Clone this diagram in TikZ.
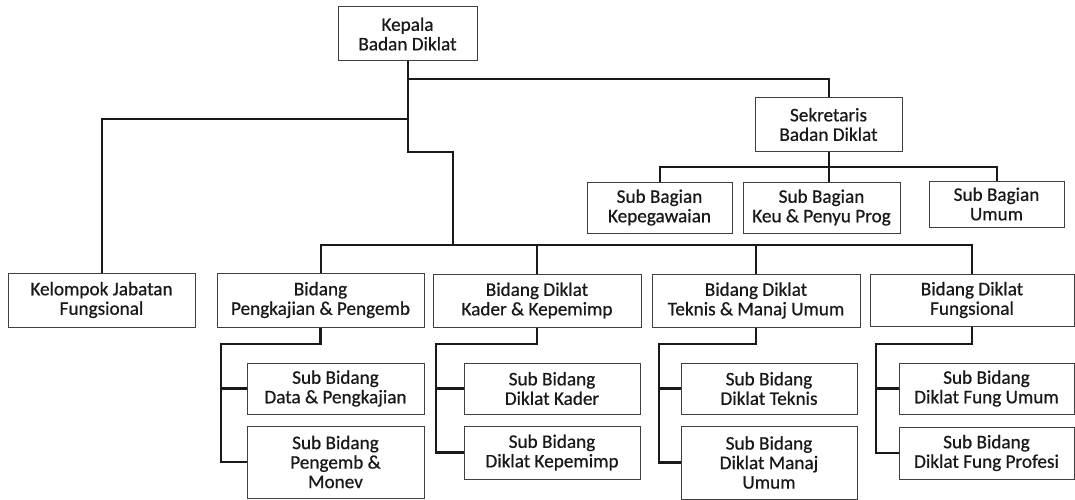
\documentclass[tikz,border=0pt]{standalone}
\usepackage{fontspec}
\setmainfont{Carlito}[FakeBold=0.6]
\begin{document}
\begin{tikzpicture}[x=1pt,y=-1pt,
  box/.style={draw=black!75, line width=1pt, fill=white, align=center, inner sep=0pt,
    font=\fontsize{19.2}{19.5}\selectfont, text=black!90},
  conn/.style={line width=2pt, draw=black!90},
  subconn/.style={line width=2.8pt, draw=black!90}]
\useasboundingbox[fill=white] (0,0) rectangle (1075,500);
% top
\node[box, minimum width=139pt, minimum height=54pt] (kepala) at (407.5,34) {Kepala\\Badan Diklat};
\node[box, minimum width=147pt, minimum height=53pt] (sekr) at (828.5,124.5) {Sekretaris\\Badan Diklat};
\node[box, minimum width=145pt, minimum height=51pt] (sb1) at (659.5,207.5) {Sub Bagian\\Kepegawaian};
\node[box, minimum width=157pt, minimum height=51pt] (sb2) at (821.5,207.5) {Sub Bagian\\Keu \& Penyu Prog};
\node[box, minimum width=135pt, minimum height=46pt] (sb3) at (996.5,204) {Sub Bagian\\Umum};
% bidang row
\node[box, minimum width=187pt, minimum height=54pt] (kel) at (101.5,300) {Kelompok Jabatan\\Fungsional};
\node[box, minimum width=207pt, minimum height=54pt] (bp) at (320.5,300) {Bidang\\Pengkajian \& Pengemb};
\node[box, minimum width=208pt, minimum height=53pt] (bk) at (537,300.5) {Bidang Diklat\\Kader \& Kepemimp};
\node[box, minimum width=208pt, minimum height=53pt] (bt) at (756,300.5) {Bidang Diklat\\Teknis \& Manaj Umum};
\node[box, minimum width=204pt, minimum height=52pt] (bf) at (972,300) {Bidang Diklat\\Fungsional};
% sub row
\node[box, minimum width=177pt, minimum height=51pt] (bp1) at (335.5,388.5) {Sub Bidang\\Data \& Pengkajian};
\node[box, minimum width=177pt, minimum height=72pt] (bp2) at (335.5,462) {Sub Bidang\\Pengemb \&\\Monev};
\node[box, minimum width=176pt, minimum height=51pt] (bk1) at (552,388.5) {Sub Bidang\\Diklat Kader};
\node[box, minimum width=176pt, minimum height=53pt] (bk2) at (552,452.5) {Sub Bidang\\Diklat Kepemimp};
\node[box, minimum width=176pt, minimum height=51pt] (bt1) at (769,388.5) {Sub Bidang\\Diklat Teknis};
\node[box, minimum width=176pt, minimum height=73pt] (bt2) at (769,462.5) {Sub Bidang\\Diklat Manaj\\Umum};
\node[box, minimum width=175pt, minimum height=51pt] (bf1) at (986.5,388.5) {Sub Bidang\\Diklat Fung Umum};
\node[box, minimum width=175pt, minimum height=52pt] (bf2) at (986.5,453) {Sub Bidang\\Diklat Fung Profesi};
% helper coordinates
\coordinate (jog) at (453,152);
\coordinate (barY) at (0,245);
\coordinate (sbarY) at (0,167);
\coordinate (sekY) at (0,79);
\coordinate (kelY) at (0,119);
\coordinate (elY) at (0,344);
% connectors
\draw[conn] (kepala.south) |- (jog) -- (jog |- barY);
\draw[conn] (kepala.south |- sekY) -| (sekr.north);
\draw[conn] (kepala.south |- kelY) -| (kel.north);
\draw[conn] (bp.north) -- (bp.north |- barY) -- (bf.north |- barY) -- (bf.north);
\draw[conn] (bk.north) -- (bk.north |- barY);
\draw[conn] (bt.north) -- (bt.north |- barY);
\draw[conn] (sb1.north) -- (sb1.north |- sbarY) -- (sb3.north |- sbarY) -- (sb3.north);
\draw[conn] (sekr.south) -- (sekr.south |- sb2.north);
% sub elbows
\coordinate (epx) at (221,0);
\coordinate (ekx) at (436,0);
\coordinate (etx) at (659,0);
\coordinate (efx) at (876,0);
\draw[subconn] (bp.south) -- (bp.south |- elY) -- (epx |- elY) |- (bp2.west);
\draw[subconn] (bp1.west -| epx) -- (bp1.west);
\draw[subconn] (bk.south) -- (bk.south |- elY) -- (ekx |- elY) |- (bk2.west);
\draw[subconn] (bk1.west -| ekx) -- (bk1.west);
\draw[subconn] (bt.south) -- (bt.south |- elY) -- (etx |- elY) |- (bt2.west);
\draw[subconn] (bt1.west -| etx) -- (bt1.west);
\draw[subconn] (bf.south) -- (bf.south |- elY) -- (efx |- elY) |- (bf2.west);
\draw[subconn] (bf1.west -| efx) -- (bf1.west);
\end{tikzpicture}
\end{document}
